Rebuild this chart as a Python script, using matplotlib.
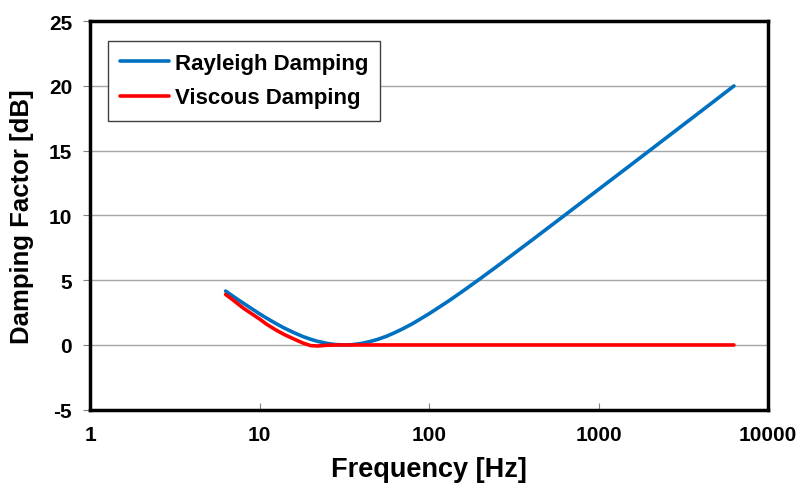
import numpy as np
import matplotlib.pyplot as plt

plt.rcParams['font.family'] = ['Liberation Sans', 'DejaVu Sans']
plt.rcParams['font.weight'] = 'bold'
plt.rcParams['axes.unicode_minus'] = False

# frequency points [Hz]
freq = [6.3, 7, 8, 10, 11, 12.5, 14, 16, 18, 20, 22, 25, 28, 31.6, 35, 40,
        45, 50, 56, 63, 70, 80, 100, 130, 160, 200, 250, 400, 630, 1000,
        1600, 2500, 4000, 6300]
# damping factor [dB]
rayleigh = [4.16, 3.74, 3.23, 2.40, 2.07, 1.65, 1.30, 0.94, 0.65, 0.44, 0.28,
            0.12, 0.03, 0.0, 0.02, 0.12, 0.27, 0.44, 0.67, 0.96, 1.25, 1.65,
            2.41, 3.38, 4.20, 5.11, 6.04, 8.04, 10.0, 12.0, 14.03, 15.97,
            18.01, 19.99]

freq_visc = [6.3, 7, 8, 9, 10, 11, 12.5, 14, 16, 18, 20, 22, 25, 30, 40,
             100, 1000, 6300]
viscous = [3.9, 3.45, 2.85, 2.4, 2.0, 1.6, 1.15, 0.8, 0.45, 0.15, -0.05,
           -0.08, -0.02, 0.0, 0.0, 0.0, 0.0, 0.0]

fig = plt.figure(figsize=(8.05, 4.89), dpi=100)
ax = fig.add_axes([0.112, 0.16, 0.842, 0.795])

for y in range(-5, 26, 5):
    ax.axhline(y, color='#a6a6a6', lw=1.0, zorder=0)

ax.plot(freq, rayleigh, color='#0070c0', lw=2.6, label='Rayleigh Damping',
        solid_capstyle='round')
ax.plot(freq_visc, viscous, color='#ff0000', lw=2.6, label='Viscous Damping',
        solid_capstyle='round')

ax.set_xscale('log')
ax.set_xlim(1, 10000)
ax.set_ylim(-5, 25)
ax.set_xticks([1, 10, 100, 1000, 10000])
ax.set_xticklabels(['1', '10', '100', '1000', '10000'])
ax.minorticks_off()
ax.set_yticks(range(-5, 26, 5))
ax.tick_params(axis='x', direction='in', length=5, color='#808080',
               labelsize=15, pad=11)
ax.tick_params(axis='y', direction='out', length=5, color='#808080',
               labelsize=15, pad=8)

for s in ax.spines.values():
    s.set_linewidth(2.5)

ax.set_xlabel('Frequency [Hz]', fontsize=19.5, fontweight='bold')
ax.set_ylabel('Damping Factor [dB]', fontsize=18.5, fontweight='bold')
ax.xaxis.set_label_coords(0.5, -0.118)
ax.yaxis.set_label_coords(-0.083, 0.5)

leg = ax.legend(loc='upper left', bbox_to_anchor=(0.0265, 0.949),
                borderaxespad=0, fontsize=16, fancybox=False,
                edgecolor='#404040', framealpha=1, handlelength=2.2,
                handletextpad=0.25, borderpad=0.55, labelspacing=0.6)
leg.get_frame().set_linewidth(1.0)

fig.savefig('out.png', dpi=100)
